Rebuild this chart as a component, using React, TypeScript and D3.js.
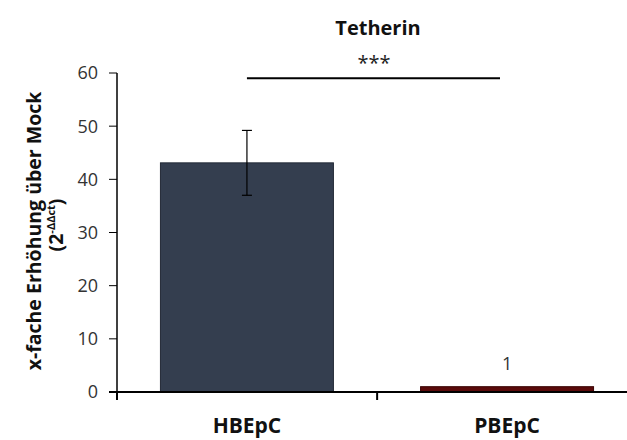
import { useMemo } from "react";
import * as d3 from "d3";

const WIDTH = 627;
const HEIGHT = 440;
const MARGIN = { top: 73, right: 0, bottom: 48, left: 117 };

const categories = ["HBEpC", "PBEpC"];
const means = [43.1, 1];
const errors = [6.1, 0];
const barColors = ["#343e4f", "#5a0a0a"];
const barStrokes = ["#232a36", "#3a0505"];
const yTicks = [0, 10, 20, 30, 40, 50, 60];
const valueLabels = ["", "1"];

const FONT = "'Open Sans', sans-serif";

const App = () => {
  const boundsHeight = HEIGHT - MARGIN.top - MARGIN.bottom;

  const yScale = useMemo(
    () => d3.scaleLinear().domain([0, 60]).range([boundsHeight, 0]),
    [boundsHeight]
  );
  const xScale = useMemo(
    () => d3.scaleBand().domain(categories).range([0, 520]).paddingInner(0.335).paddingOuter(0.167),
    []
  );
  const bandStep = xScale.step();
  const bandStart = xScale(categories[0])! - xScale.paddingOuter() * bandStep;

  const bars = categories.map((c, i) => {
    const x = xScale(c)!;
    const cx = x + xScale.bandwidth() / 2;
    return (
      <g key={c}>
        <rect
          x={x}
          y={yScale(means[i])}
          width={xScale.bandwidth()}
          height={yScale(0) - yScale(means[i])}
          fill={barColors[i]}
          stroke={barStrokes[i]}
          strokeWidth={1}
        />
        {errors[i] > 0 && (
          <g stroke="#000" strokeWidth={1.2}>
            <line x1={cx} x2={cx} y1={yScale(means[i] + errors[i])} y2={yScale(means[i] - errors[i])} />
            <line x1={cx - 5} x2={cx + 5} y1={yScale(means[i] + errors[i])} y2={yScale(means[i] + errors[i])} />
            <line x1={cx - 5} x2={cx + 5} y1={yScale(means[i] - errors[i])} y2={yScale(means[i] - errors[i])} />
          </g>
        )}
        {valueLabels[i] && (
          <text x={cx} y={yScale(means[i]) - 17} textAnchor="middle" fontSize={18} fill="#333" fontFamily={FONT}>
            {valueLabels[i]}
          </text>
        )}
        <text
          x={cx}
          y={boundsHeight + 41}
          textAnchor="middle"
          fontSize={21}
          fontWeight="bold"
          fill="#111"
          fontFamily={FONT}
        >
          {c}
        </text>
      </g>
    );
  });

  const sigX1 = xScale(categories[0])! + xScale.bandwidth() / 2;
  const sigX2 = 500 - MARGIN.left;
  const sigY = yScale(59);

  return (
    <svg
      width={WIDTH}
      height={HEIGHT}
      style={{ position: "absolute", left: 0, top: 0, background: "#fff" }}
    >
      <text x={378} y={35} textAnchor="middle" fontSize={20} fontWeight="bold" fill="#111" fontFamily={FONT}>
        Tetherin
      </text>
      <g transform={`translate(${MARGIN.left},${MARGIN.top})`}>
        {yTicks.map((t) => (
          <g key={t}>
            <line x1={-8} x2={0} y1={yScale(t)} y2={yScale(t)} stroke="#000" strokeWidth={1} />
            <text x={-19} y={yScale(t)} dy="0.36em" textAnchor="end" fontSize={18} fill="#333" fontFamily={FONT}>
              {t}
            </text>
          </g>
        ))}
        {bars}
        <line x1={0} x2={0} y1={0} y2={boundsHeight} stroke="#000" strokeWidth={1.5} />
        <line x1={-8} x2={520} y1={boundsHeight} y2={boundsHeight} stroke="#000" strokeWidth={2} />
        {[0, 1].map((k) => (
          <line
            key={k}
            x1={bandStart + k * bandStep}
            x2={bandStart + k * bandStep}
            y1={boundsHeight}
            y2={boundsHeight + 8}
            stroke="#000"
            strokeWidth={2}
          />
        ))}
        <line x1={sigX1} x2={sigX2} y1={sigY} y2={sigY} stroke="#000" strokeWidth={2} />
        <text x={374 - MARGIN.left} y={sigY - 8} textAnchor="middle" fontSize={20} fill="#222" fontFamily={FONT}>
          ***
        </text>
      </g>
      <g transform="translate(41,231) rotate(-90)">
        <text textAnchor="middle" fontSize={19.5} fontWeight="bold" fill="#111" fontFamily={FONT}>
          x-fache Erhöhung über Mock
        </text>
        <text x={6} y={22} textAnchor="middle" fontSize={19.5} fontWeight="bold" fill="#111" fontFamily={FONT}>
          (2
          <tspan dy={-8} fontSize={11}>-ΔΔct</tspan>
          <tspan dy={8}>)</tspan>
        </text>
      </g>
    </svg>
  );
};

export default App;
